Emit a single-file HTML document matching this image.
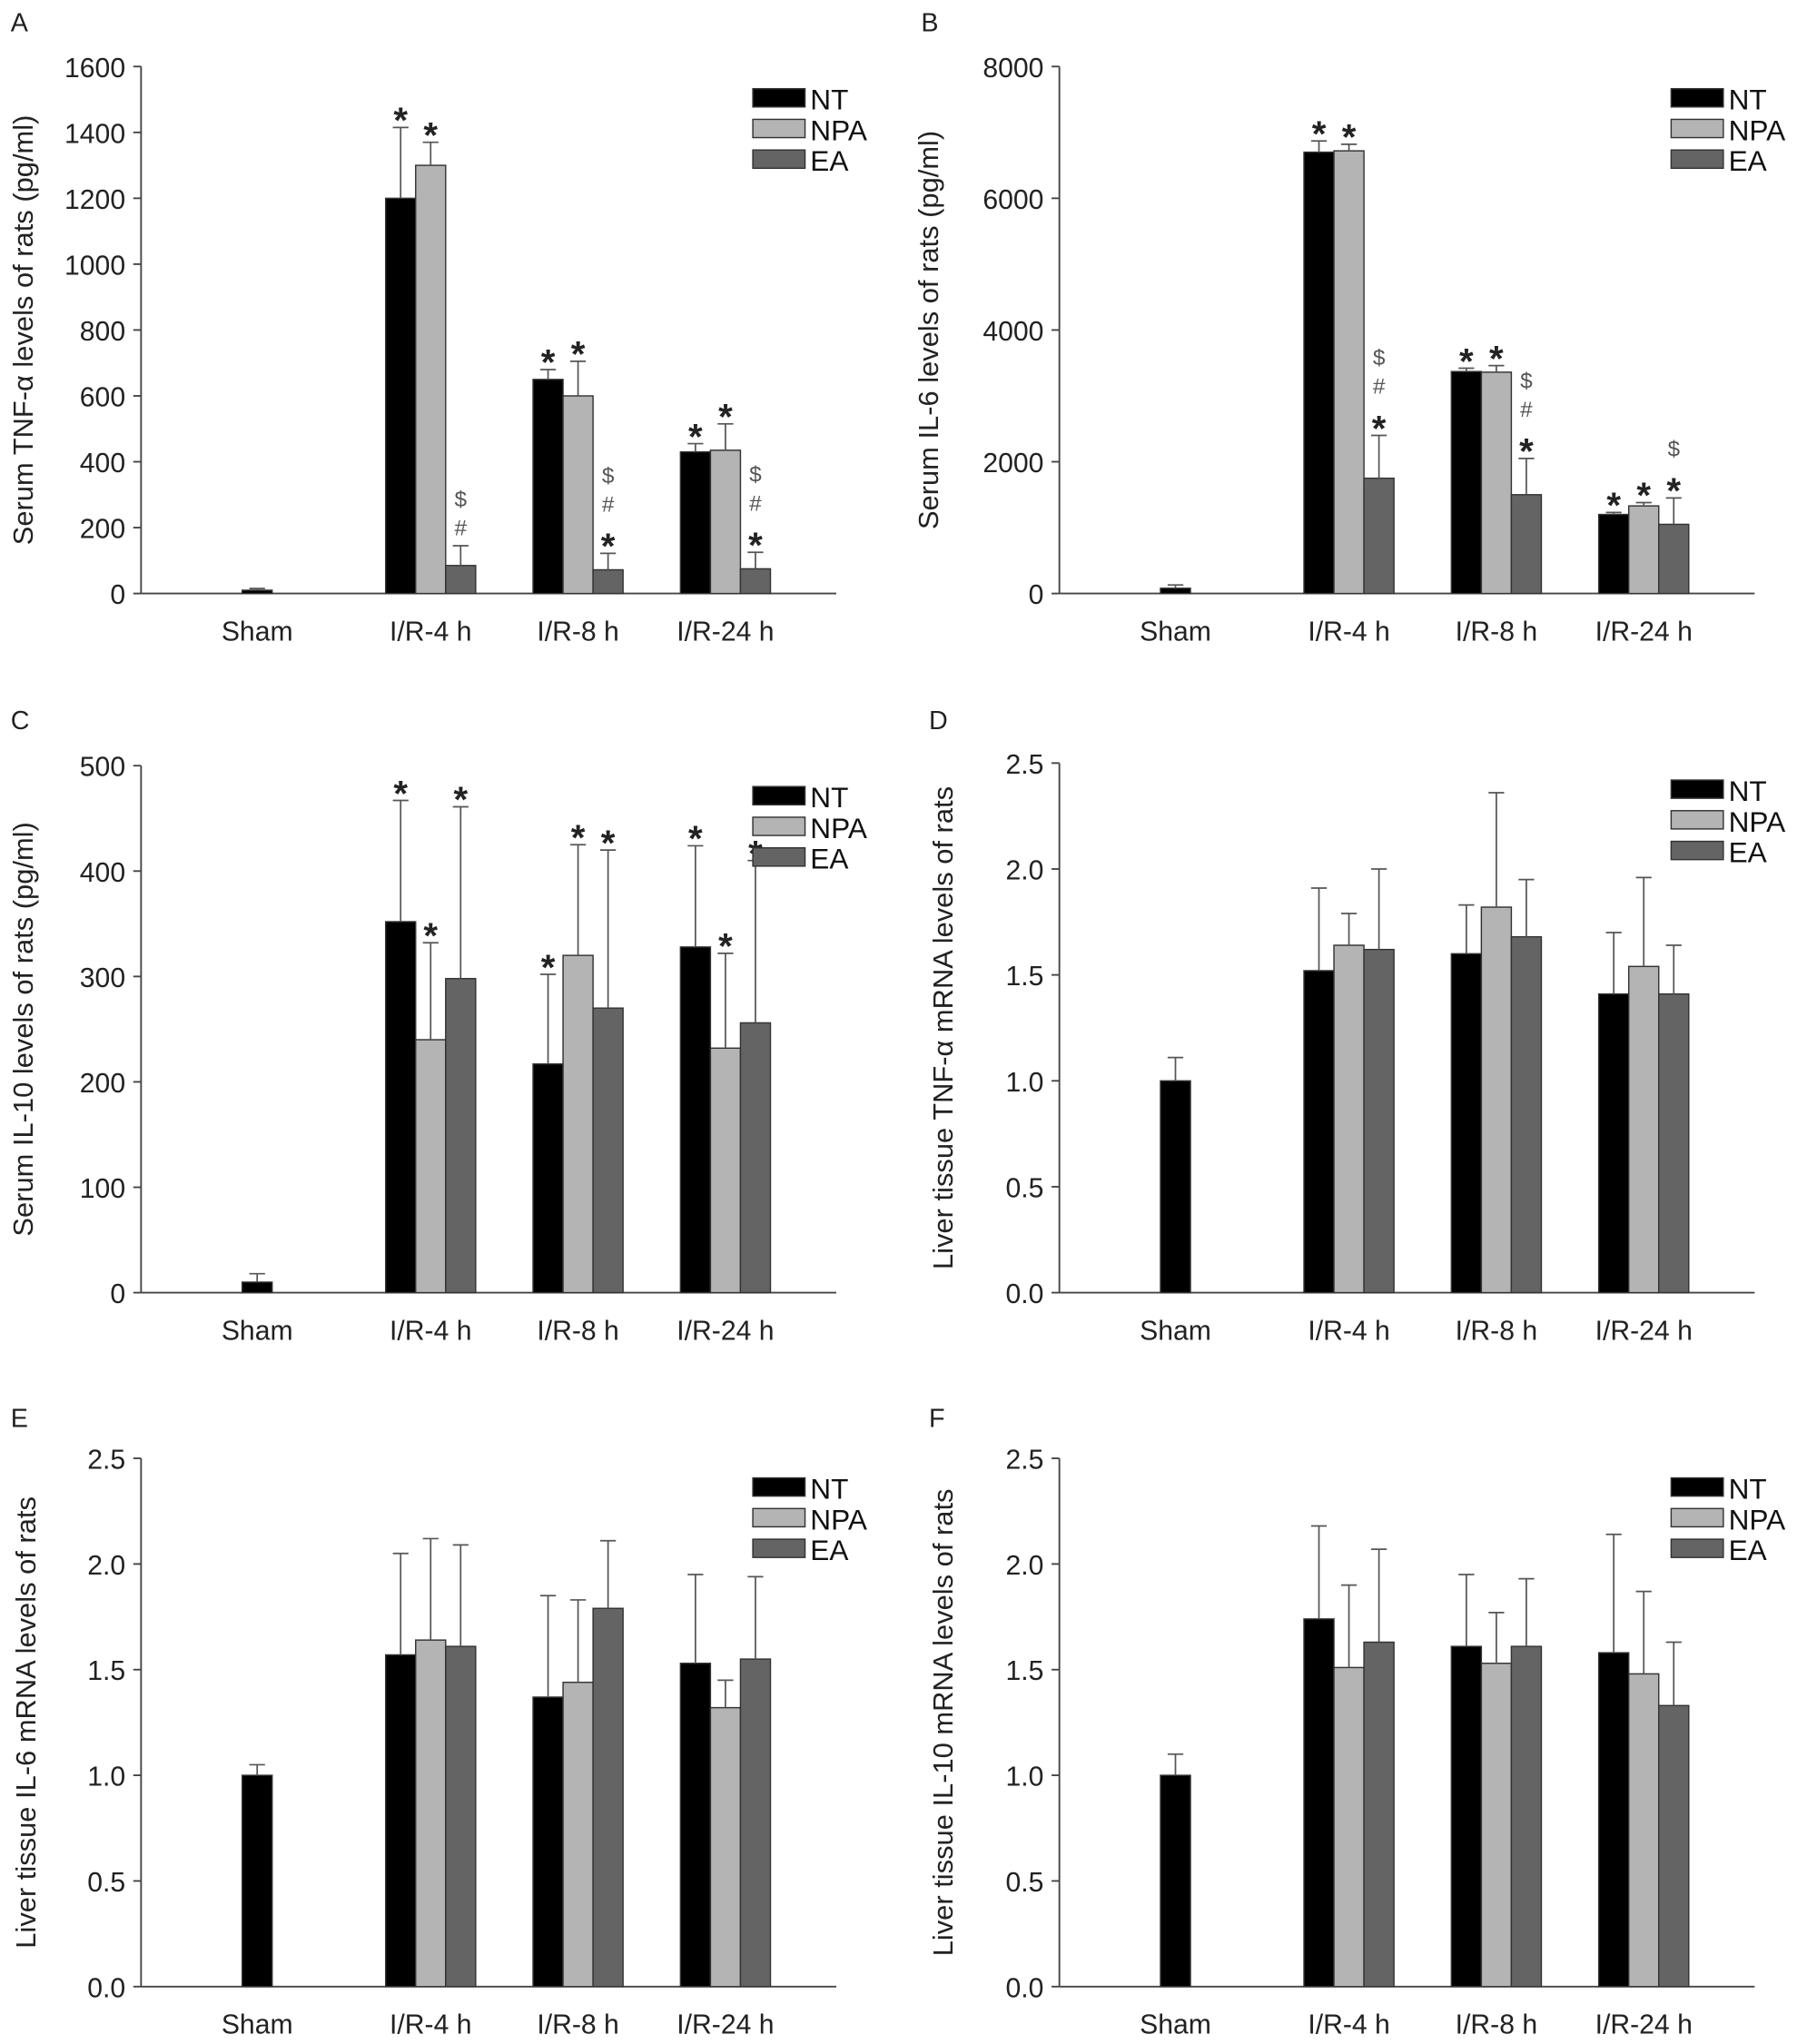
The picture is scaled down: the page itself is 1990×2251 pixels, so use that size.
<!DOCTYPE html>
<html><head><meta charset="utf-8"><style>
html,body{margin:0;padding:0;background:#fff;}
svg{display:block;font-family:"Liberation Sans",Arial,sans-serif;}
</style></head><body>
<svg id="fig" width="1990" height="2251" viewBox="0 0 1385 1567" xmlns="http://www.w3.org/2000/svg"></svg>
<script>
const categories = ["Sham","I/R-4 h","I/R-8 h","I/R-24 h"];
const seriesNames = ["NT","NPA","EA"];
// Panel A: serum TNF-a
const aNT = [10,1200,650,430], aNTe = [5,215,30,25];
const aNPA = [null,1300,600,435], aNPAe = [null,70,105,80];
const aEA = [null,85,72,75], aEAe = [null,60,50,50];
const aMarks = [["",""],["*","*","$#"],["*","*","$#*"],["*","*","$#*"]];
const aTicks = [0,200,400,600,800,1000,1200,1400,1600];
// Panel B: serum IL-6
const bNT = [80,6700,3370,1200], bNTe = [50,170,50,30];
const bNPA = [null,6720,3360,1330], bNPAe = [null,100,100,50];
const bEA = [null,1750,1500,1050], bEAe = [null,650,550,400];
const bMarks = [[""],["*","*","$#*"],["*","*","$#*"],["*","*","$*"]];
const bTicks = [0,2000,4000,6000,8000];
// Panel C: serum IL-10
const cNT = [10,352,217,328], cNTe = [8,115,85,96];
const cNPA = [null,240,320,232], cNPAe = [null,92,105,90];
const cEA = [null,298,270,256], cEAe = [null,163,150,154];
const cMarks = [[""],["*","*","*"],["*","*","*"],["*","*","*"]];
const cTicks = [0,100,200,300,400,500];
// Panel D: liver TNF-a mRNA
const dNT = [1.0,1.52,1.60,1.41], dNTe = [0.11,0.39,0.23,0.29];
const dNPA = [null,1.64,1.82,1.54], dNPAe = [null,0.15,0.54,0.42];
const dEA = [null,1.62,1.68,1.41], dEAe = [null,0.38,0.27,0.23];
// Panel E: liver IL-6 mRNA
const eNT = [1.0,1.57,1.37,1.53], eNTe = [0.05,0.48,0.48,0.42];
const eNPA = [null,1.64,1.44,1.32], eNPAe = [null,0.48,0.39,0.13];
const eEA = [null,1.61,1.79,1.55], eEAe = [null,0.48,0.32,0.39];
// Panel F: liver IL-10 mRNA
const fNT = [1.0,1.74,1.61,1.58], fNTe = [0.10,0.44,0.34,0.56];
const fNPA = [null,1.51,1.53,1.48], fNPAe = [null,0.39,0.24,0.39];
const fEA = [null,1.63,1.61,1.33], fEAe = [null,0.44,0.32,0.30];
const mrnaTicks = [0.0,0.5,1.0,1.5,2.0,2.5];

const NS="http://www.w3.org/2000/svg";
const svg=document.getElementById('fig');
const fills=["#000000","#b4b4b4","#646464"];
function mk(tag,attrs,parent){const e=document.createElementNS(NS,tag);for(const k in attrs)e.setAttribute(k,attrs[k]);(parent||svg).appendChild(e);return e;}

function panel(p){
  const g=mk('g',{});
  
  
  const ax=p.ax, y0=p.y0, yT=p.yTop, max=p.ticks[p.ticks.length-1];
  const ys=v=>y0-(v/max)*(y0-yT);
  const cx=[ax+89,ax+222,ax+335,ax+448];
  const bw=23;
  const lt=mk('text',{x:p.lx,y:p.ly,'font-size':20,fill:'#222'},g);lt.textContent=p.letter;
  
  
  const yl=mk('line',{x1:ax,y1:y0,x2:ax,y2:yT,stroke:'#444','stroke-width':1.3},g);
  
  
  const xl=mk('line',{x1:ax,y1:y0,x2:ax+533,y2:y0,stroke:'#444','stroke-width':1.3},g);
  
  
  p.ticks.forEach(t=>{
    const y=ys(t);
    mk('line',{x1:ax-6,y1:y,x2:ax,y2:y,stroke:'#444','stroke-width':1.3},g);
    const tx=mk('text',{x:ax-12,y:y+8,'font-size':21,'text-anchor':'end',fill:'#222'},g);
    tx.textContent=p.fmt(t);
    
    
  });
  const yt=mk('text',{x:0,y:0,'font-size':21.5,'text-anchor':'middle',fill:'#222',transform:`translate(${p.tx},${(y0+yT)/2}) rotate(-90)`},g);
  yt.textContent=p.title;
  
  
  categories.forEach((c,i)=>{
    const t=mk('text',{x:cx[i],y:y0+36,'font-size':21,'text-anchor':'middle',fill:'#222'},g);
    t.textContent=c;
    
    
  });
  const series=[p.s[0],p.s[1],p.s[2]], errs=[p.e[0],p.e[1],p.e[2]];
  categories.forEach((c,i)=>{
    series.forEach((arr,s)=>{
      const v=arr[i]; if(v===null||v===undefined)return;
      const bx = i===0 ? cx[i]-bw/2 : cx[i]-bw*1.5+s*bw;
      const by=ys(v);
      const r=mk('rect',{x:bx,y:by,width:bw,height:y0-by,fill:fills[s],stroke:'#333','stroke-width':1},g);
      
      
      const ev=errs[s][i]; const ety=ys(v+ev); const mx=bx+bw/2;
      mk('line',{x1:mx,y1:by,x2:mx,y2:ety,stroke:'#555','stroke-width':1.2},g);
      mk('line',{x1:mx-6,y1:ety,x2:mx+6,y2:ety,stroke:'#555','stroke-width':1.2},g);
      if(p.marks&&p.marks[i]&&p.marks[i][s]){
        const m=p.marks[i][s].split('').reverse(); let yy=ety-8;
        m.forEach(ch=>{
          const t=mk('text',{x:mx,y:ch==='*'?yy+12:yy,'text-anchor':'middle','font-size':ch==='*'?28:17,'font-weight':ch==='*'?'bold':'normal',fill:ch==='*'?'#222':'#555'},g);
          t.textContent=ch;
          
          
          yy-= ch==='*'?24:22;
        });
      }
    });
  });
  const lx=ax+469, ly=p.legY;
  seriesNames.forEach((n,s)=>{
    const r=mk('rect',{x:lx,y:ly+s*23.5,width:40,height:14,fill:fills[s],stroke:'#333','stroke-width':1},g);
    
    
    const t=mk('text',{x:lx+44,y:ly+s*23.5+16,'font-size':22,fill:'#111'},g);
    t.textContent=n;
    
    
  });
}
const fint=t=>String(t), fdec=t=>t.toFixed(1);
panel({letter:'A',lx:8,ly:24,ax:108,y0:455,yTop:51,ticks:aTicks,fmt:fint,tx:25,title:'Serum TNF-α levels of rats (pg/ml)',s:[aNT,aNPA,aEA],e:[aNTe,aNPAe,aEAe],marks:aMarks,legY:68});
panel({letter:'B',lx:706,ly:24,ax:812,y0:455,yTop:51,ticks:bTicks,fmt:fint,tx:719,title:'Serum IL-6 levels of rats (pg/ml)',s:[bNT,bNPA,bEA],e:[bNTe,bNPAe,bEAe],marks:bMarks,legY:68});
panel({letter:'C',lx:8,ly:559,ax:108,y0:991,yTop:587,ticks:cTicks,fmt:fint,tx:25,title:'Serum IL-10 levels of rats (pg/ml)',s:[cNT,cNPA,cEA],e:[cNTe,cNPAe,cEAe],marks:cMarks,legY:603});
panel({letter:'D',lx:712,ly:559,ax:812,y0:991,yTop:585,ticks:mrnaTicks,fmt:fdec,tx:730,title:'Liver tissue TNF-α mRNA levels of rats',s:[dNT,dNPA,dEA],e:[dNTe,dNPAe,dEAe],marks:null,legY:598});
panel({letter:'E',lx:8,ly:1094,ax:108,y0:1523,yTop:1118,ticks:mrnaTicks,fmt:fdec,tx:27,title:'Liver tissue IL-6 mRNA levels of rats',s:[eNT,eNPA,eEA],e:[eNTe,eNPAe,eEAe],marks:null,legY:1133});
panel({letter:'F',lx:712,ly:1094,ax:812,y0:1523,yTop:1118,ticks:mrnaTicks,fmt:fdec,tx:730,title:'Liver tissue IL-10 mRNA levels of rats',s:[fNT,fNPA,fEA],e:[fNTe,fNPAe,fEAe],marks:null,legY:1133});
</script>
</body></html>
